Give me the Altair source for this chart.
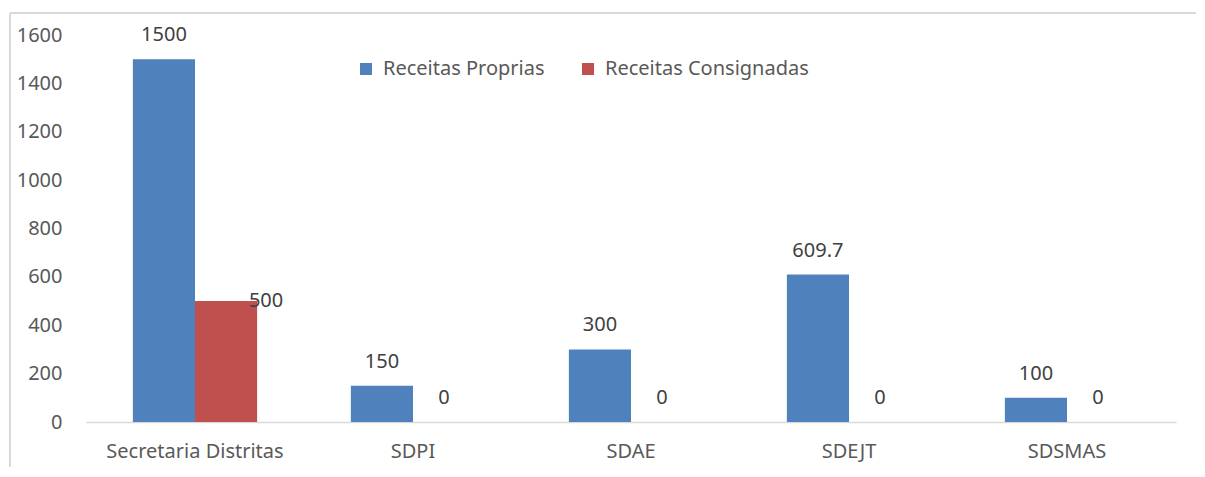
import altair as alt
import pandas as pd

categories = ["Secretaria Distritas", "SDPI", "SDAE", "SDEJT", "SDSMAS"]
receitas_proprias = [1500, 150, 300, 609.7, 100]
receitas_consignadas = [500, 0, 0, 0, 0]
series = ["Receitas Proprias", "Receitas Consignadas"]
colors = ["#4F81BD", "#C0504D"]

rows = []
for i, c in enumerate(categories):
    rows.append({"cat": c, "serie": series[0], "val": receitas_proprias[i], "lbl": f"{receitas_proprias[i]:g}"})
    rows.append({"cat": c, "serie": series[1], "val": receitas_consignadas[i], "lbl": f"{receitas_consignadas[i]:g}"})
df = pd.DataFrame(rows)

FONT = "Noto Sans"
FS = 20
W, H = 1090, 387

x = alt.X("cat:N", sort=categories, title=None,
          scale=alt.Scale(paddingInner=0.43, paddingOuter=0.215),
          axis=alt.Axis(labelAngle=0, ticks=False, domainColor="#D9D9D9", domainWidth=1.5,
                        labelPadding=19, labelFontSize=FS, labelColor="#595959", labelFont=FONT))
xo = alt.XOffset("serie:N", sort=series)
y = alt.Y("val:Q", title=None,
          scale=alt.Scale(domain=[0, 1600], nice=False),
          axis=alt.Axis(values=list(range(0, 1601, 200)), format="d", grid=False, domain=False, ticks=False,
                        labelPadding=24, labelFontSize=FS, labelColor="#595959", labelFont=FONT))
color = alt.Color("serie:N", sort=series, scale=alt.Scale(domain=series, range=colors),
                  legend=alt.Legend(title=None, orient="none", legendX=270, legendY=24,
                                    direction="horizontal", columns=2, columnPadding=33,
                                    symbolType="square", symbolSize=144, symbolStrokeWidth=0,
                                    labelOffset=7,
                                    labelFontSize=FS, labelColor="#595959", labelFont=FONT,
                                    labelLimit=400))

base = alt.Chart(df)
bars = base.mark_bar().encode(x=x, xOffset=xo, y=y, color=color)
labels = base.transform_filter(
    (alt.datum.serie == series[0]) | (alt.datum.val == 0)
).mark_text(dy=-18, baseline="alphabetic", fontSize=FS, color="#404040", font=FONT).encode(
    x=x, xOffset=xo, y=y, text="lbl:N")
labels_red = base.transform_filter(
    (alt.datum.serie == series[1]) & (alt.datum.val > 0)
).mark_text(dx=40, dy=6, baseline="alphabetic", fontSize=FS, color="#404040", font=FONT).encode(
    x=x, xOffset=xo, y=y, text="lbl:N")

top_line = base.mark_rule(color="#D9D9D9", strokeWidth=1.5, clip=False).encode(
    x=alt.value(-76), x2=alt.value(W + 60), y=alt.value(-22))
left_line = base.mark_rule(color="#D9D9D9", strokeWidth=1.5, clip=False).encode(
    x=alt.value(-76), y=alt.value(-22), y2=alt.value(H + 70))

chart = alt.layer(top_line, left_line, bars, labels, labels_red).properties(
    width=W, height=H,
    background="white",
    autosize=alt.AutoSizeParams(type="none"),
    padding={"left": 78, "top": 27, "right": 20, "bottom": 45},
).configure_view(strokeWidth=0, stroke=None)

chart.save("out.html", embed_options={"renderer": "svg", "actions": False})
